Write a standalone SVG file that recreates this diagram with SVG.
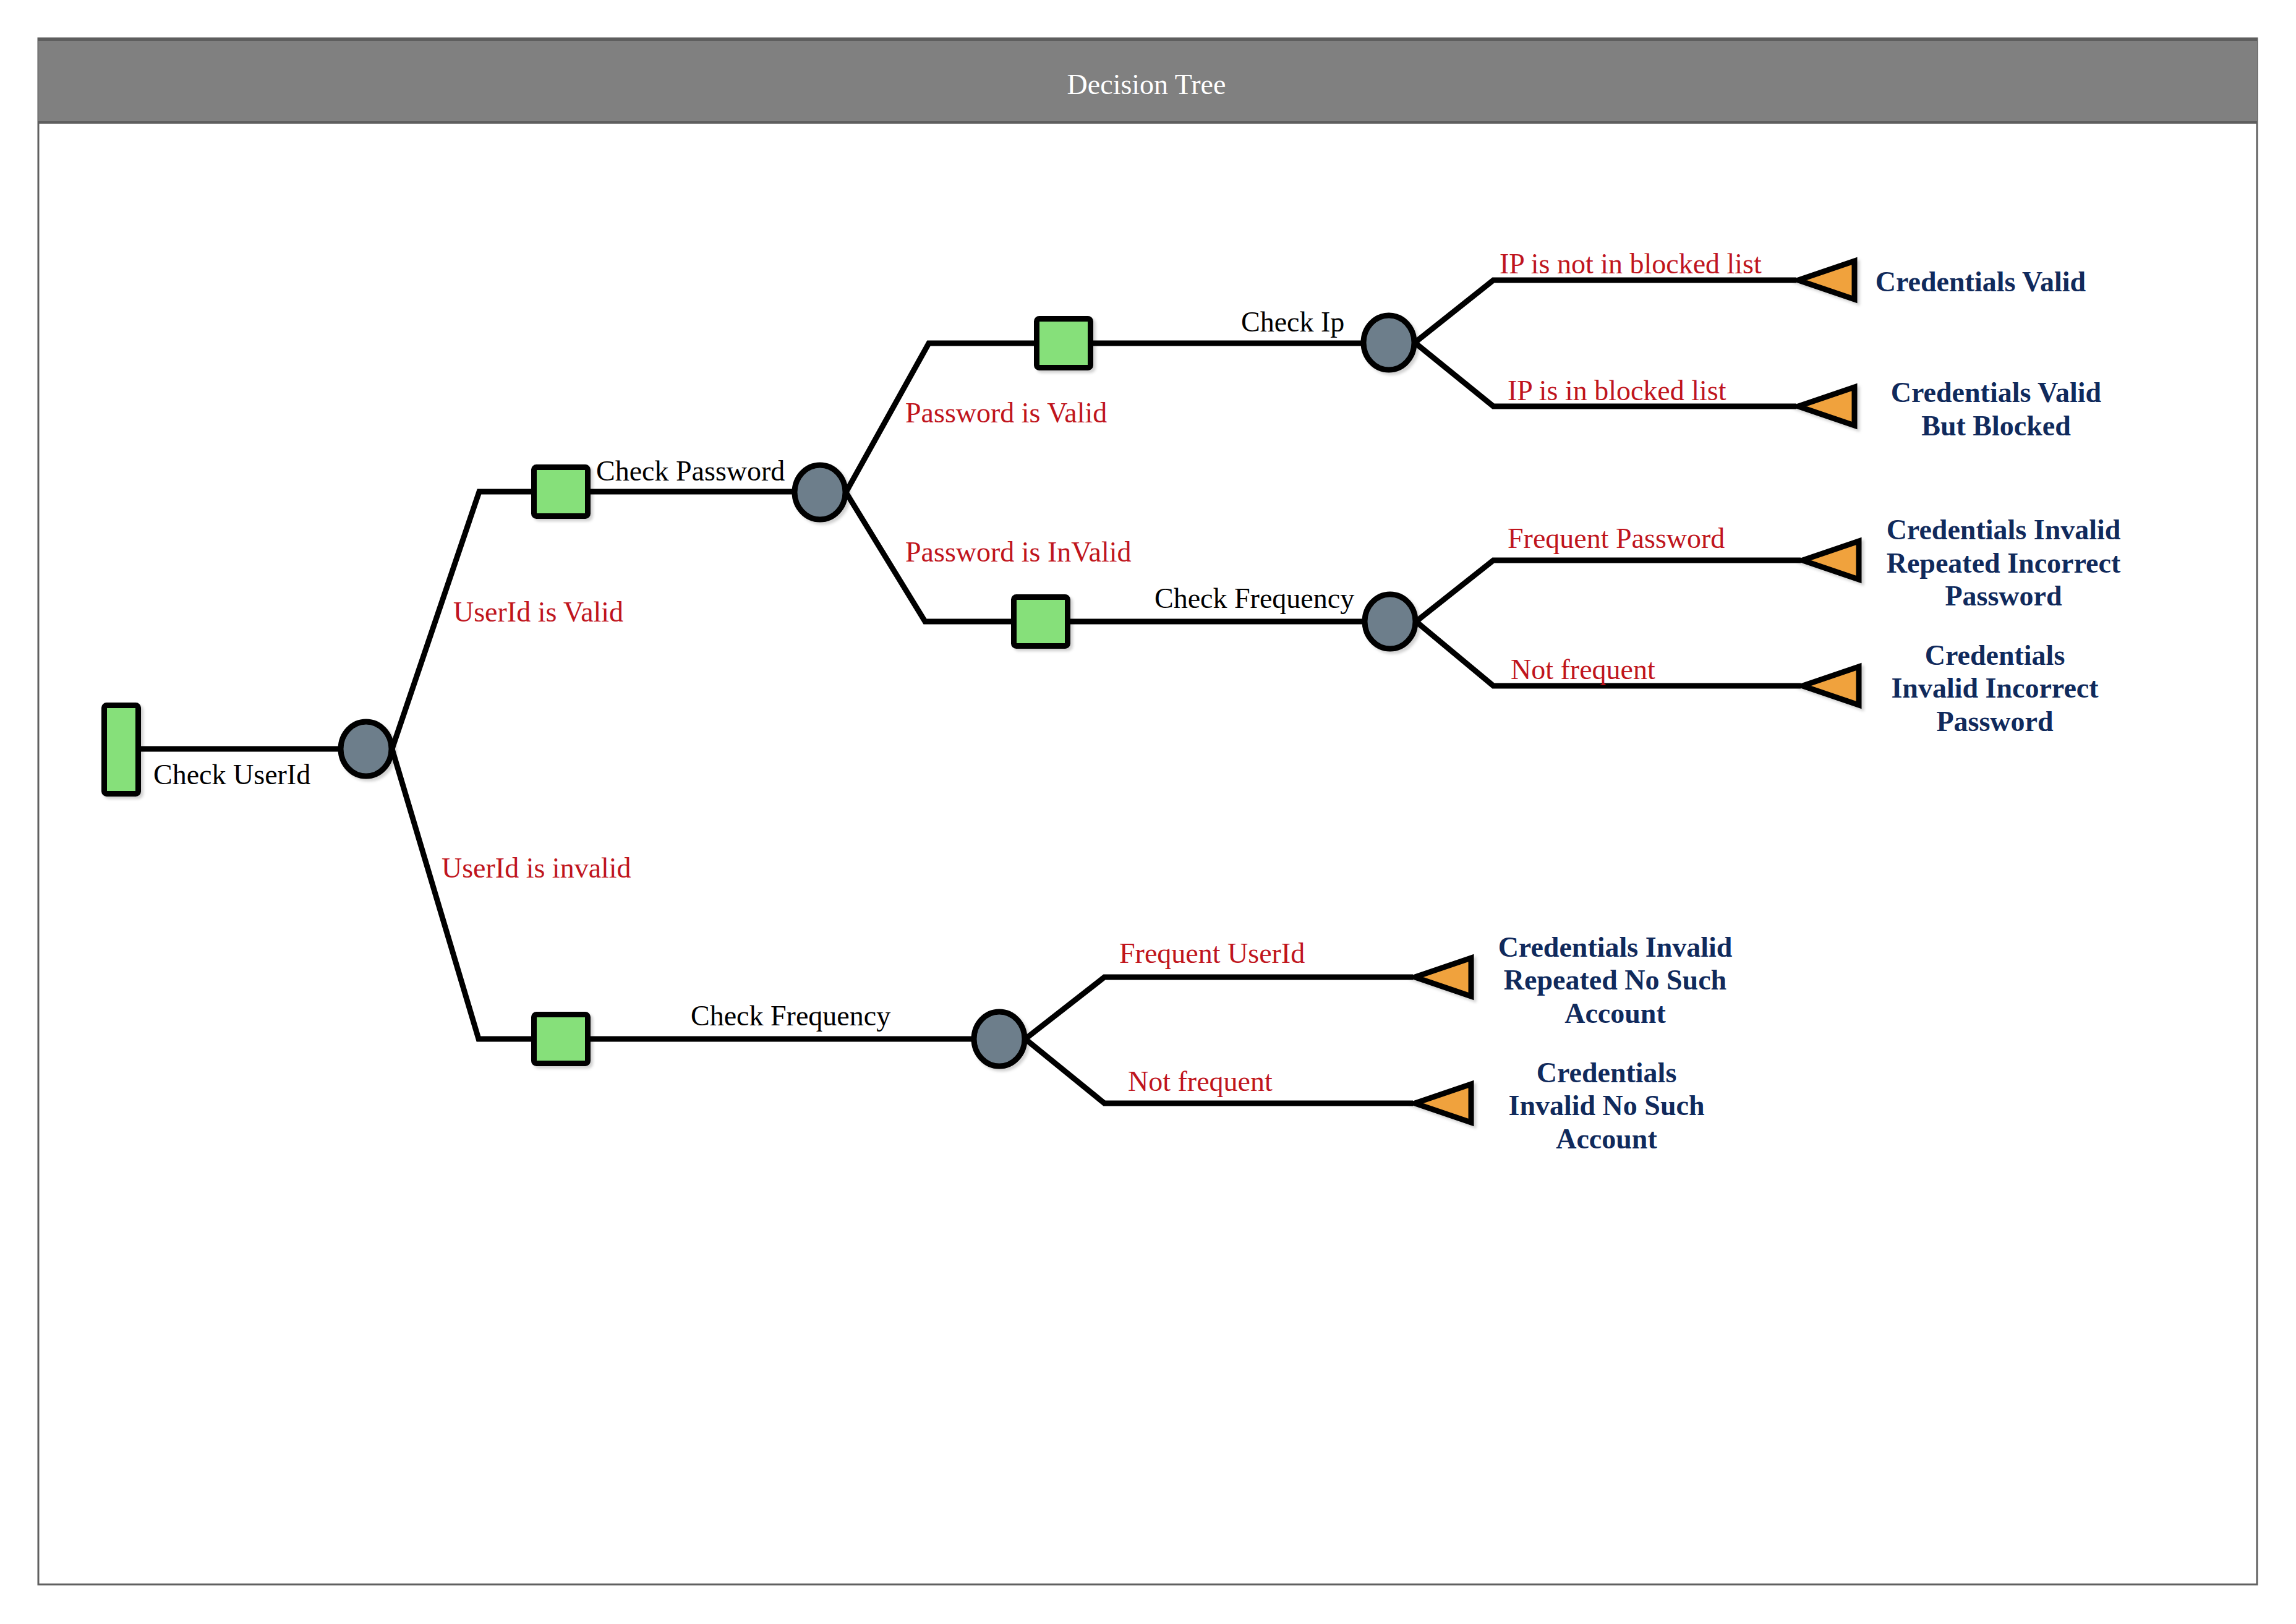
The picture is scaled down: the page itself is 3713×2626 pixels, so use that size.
<svg xmlns="http://www.w3.org/2000/svg" width="3713" height="2626" viewBox="0 0 3713 2626">
<defs>
<style>
.lbl{font-family:"Liberation Serif","Times New Roman",serif;font-size:46px;fill:#000}
.red{fill:#C0151D}
.leaf{font-family:"Liberation Serif","Times New Roman",serif;font-size:46px;font-weight:bold;fill:#102A5C;text-anchor:middle}
.title{font-family:"Liberation Serif","Times New Roman",serif;font-size:46px;fill:#fff;text-anchor:middle}
.dec{fill:#86E07A;stroke:#000;stroke-width:9}
.chance{fill:#6D7E8B;stroke:#000;stroke-width:9}
.end{fill:#F0A23E;stroke:#000;stroke-width:9;stroke-linejoin:miter}
.conn{fill:none;stroke:#000;stroke-width:9;stroke-linejoin:miter}
</style>
<filter id="sh" x="-20%" y="-20%" width="150%" height="150%">
<feDropShadow dx="4" dy="4" stdDeviation="2" flood-color="#000" flood-opacity="0.18"/>
</filter>
<path id="tri" d="M5,0 L96,-31 L96,31 Z"/>
</defs>

<rect x="0" y="0" width="3713" height="2626" fill="#fff"/>
<g id="frame">
<rect x="62" y="62" width="3588" height="2500" fill="#fff" stroke="#606060" stroke-width="3"/>
<rect x="62" y="62" width="3588" height="137" fill="#808080"/>
<line x1="62" y1="64" x2="3650" y2="64" stroke="#5E5E5E" stroke-width="4"/>
<line x1="62" y1="198" x2="3650" y2="198" stroke="#5E5E5E" stroke-width="4"/>
<text class="title" x="1854" y="152">Decision Tree</text>
</g>

<g id="connectors">
<path class="conn" d="M228,1211 L592,1211"/>
<path class="conn" d="M634,1211 L775,795 L1326,795"/>
<path class="conn" d="M634,1211 L774,1680 L1616,1680"/>
<path class="conn" d="M1368,796 L1502,555 L2246,555"/>
<path class="conn" d="M1368,796 L1496,1005 L2248,1005"/>
<path class="conn" d="M2288,554 L2415,453 L2905,453"/>
<path class="conn" d="M2288,554 L2415,657 L2905,657"/>
<path class="conn" d="M2290,1005 L2415,906 L2912,906"/>
<path class="conn" d="M2290,1005 L2415,1109 L2912,1109"/>
<path class="conn" d="M1658,1680 L1786,1580 L2285,1580"/>
<path class="conn" d="M1658,1680 L1786,1784 L2285,1784"/>
</g>

<g id="root">
<rect class="dec" x="168.5" y="1140.5" width="55" height="143" rx="4" filter="url(#sh)"/>
<text class="lbl" x="248" y="1268">Check UserId</text>
</g>
<g id="chance-userid">
<ellipse class="chance" cx="592" cy="1211" rx="41" ry="44" filter="url(#sh)"/>
</g>
<g id="edge-userid-valid"><text class="lbl red" x="733" y="1005">UserId is Valid</text></g>
<g id="edge-userid-invalid"><text class="lbl red" x="714" y="1419">UserId is invalid</text></g>

<g id="check-password">
<rect class="dec" x="863.5" y="755.5" width="87" height="79" rx="4" filter="url(#sh)"/>
<text class="lbl" x="964" y="777">Check Password</text>
</g>
<g id="chance-password">
<ellipse class="chance" cx="1326" cy="796" rx="41" ry="44" filter="url(#sh)"/>
</g>
<g id="edge-password-valid"><text class="lbl red" x="1464" y="683">Password is Valid</text></g>
<g id="edge-password-invalid"><text class="lbl red" x="1464" y="908">Password is InValid</text></g>

<g id="check-ip-decision">
<rect class="dec" x="1676.5" y="515.5" width="87" height="79" rx="4" filter="url(#sh)"/>
</g>
<g id="chance-ip">
<ellipse class="chance" cx="2246" cy="554" rx="41" ry="44" filter="url(#sh)"/>
<text class="lbl" x="2007" y="536">Check Ip</text>
</g>

<g id="check-frequency-password">
<rect class="dec" x="1639.5" y="965.5" width="87" height="79" rx="4" filter="url(#sh)"/>
</g>
<g id="chance-frequency-password">
<ellipse class="chance" cx="2248" cy="1005" rx="41" ry="44" filter="url(#sh)"/>
<text class="lbl" x="1867" y="983">Check Frequency</text>
</g>

<g id="check-frequency-userid">
<rect class="dec" x="863.5" y="1640.5" width="87" height="79" rx="4" filter="url(#sh)"/>
</g>
<g id="chance-frequency-userid">
<ellipse class="chance" cx="1616" cy="1680" rx="41" ry="44" filter="url(#sh)"/>
<text class="lbl" x="1117" y="1658">Check Frequency</text>
</g>

<g id="leaf-valid">
<use href="#tri" class="end" x="2903" y="453" filter="url(#sh)"/>
<text class="lbl red" x="2425" y="442">IP is not in blocked list</text>
<text class="leaf" x="3203" y="471">Credentials Valid</text>
</g>
<g id="leaf-valid-blocked">
<use href="#tri" class="end" x="2903" y="657" filter="url(#sh)"/>
<text class="lbl red" x="2438" y="647">IP is in blocked list</text>
<text class="leaf" x="3228" y="650">Credentials Valid</text>
<text class="leaf" x="3228" y="704">But Blocked</text>
</g>
<g id="leaf-repeated-incorrect">
<use href="#tri" class="end" x="2910" y="906" filter="url(#sh)"/>
<text class="lbl red" x="2438" y="886">Frequent Password</text>
<text class="leaf" x="3240" y="872">Credentials Invalid</text>
<text class="leaf" x="3240" y="926">Repeated Incorrect</text>
<text class="leaf" x="3240" y="979">Password</text>
</g>
<g id="leaf-incorrect">
<use href="#tri" class="end" x="2910" y="1109" filter="url(#sh)"/>
<text class="lbl red" x="2443" y="1098">Not frequent</text>
<text class="leaf" x="3226" y="1075">Credentials</text>
<text class="leaf" x="3226" y="1128">Invalid Incorrect</text>
<text class="leaf" x="3226" y="1182">Password</text>
</g>
<g id="leaf-repeated-nosuch">
<use href="#tri" class="end" x="2283" y="1580" filter="url(#sh)"/>
<text class="lbl red" x="1810" y="1557">Frequent UserId</text>
<text class="leaf" x="2612" y="1547">Credentials Invalid</text>
<text class="leaf" x="2612" y="1600">Repeated No Such</text>
<text class="leaf" x="2612" y="1654">Account</text>
</g>
<g id="leaf-nosuch">
<use href="#tri" class="end" x="2283" y="1784" filter="url(#sh)"/>
<text class="lbl red" x="1824" y="1764">Not frequent</text>
<text class="leaf" x="2598" y="1750">Credentials</text>
<text class="leaf" x="2598" y="1803">Invalid No Such</text>
<text class="leaf" x="2598" y="1857">Account</text>
</g>
</svg>
